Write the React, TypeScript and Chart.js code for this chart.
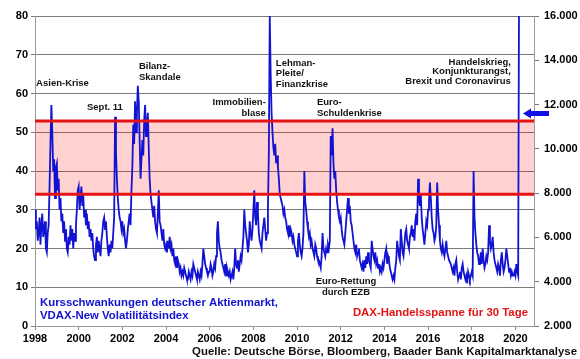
import React, { useEffect, useRef } from "react";
import { Chart, registerables } from "chart.js";
Chart.register(...registerables);

// VDAX-New: 24 samples per year (roughly every half month)
const v1998 = [30,25,27,22,24,28,21,26,29,23,25,27,20,19,24,26,36,47,57,50,40,43,33,41];
const v1999 = [42,35,38,30,33,27,29,24,27,22,25,20,19,23,21,26,22,25,20,24,22,26,30,35];
const v2000 = [36,30,33,36,31,34,28,30,26,29,25,27,23,25,22,24,20,18,17,21,23,19,22,20];
const v2001 = [18,22,24,27,28,25,27,23,20,18,21,19,22,20,24,28,54,45,38,33,30,28,27,25];
const v2002 = [27,24,25,22,20,22,25,27,29,26,35,41,52,47,58,50,55,62,58,48,38,43,48,44];
const v2003 = [53,57,49,52,55,46,38,34,32,30,28,31,27,25,24,29,35,27,26,24,22,25,21,20];
const v2004 = [21,19,22,20,23,20,21,18,20,17,16,18,15,17,16,14,15,13,14,13,15,14,13,12];
const v2005 = [12,14,13,12,14,13,16,15,14,13,12,14,13,12,14,13,16,20,18,16,15,14,13,14];
const v2006 = [14,16,15,13,14,16,15,18,24,27,22,20,19,17,16,15,14,16,13,15,14,13,14,12];
const v2007 = [13,14,12,15,20,16,15,17,14,16,18,17,20,23,30,26,24,22,19,21,27,24,22,25];
const v2008 = [30,35,28,26,32,29,24,22,21,20,24,26,28,25,22,24,30,45,80,65,55,50,46,44];
const v2009 = [47,42,44,41,38,34,33,32,31,29,30,28,27,25,24,26,23,25,24,22,23,21,20,19];
const v2010 = [18,22,24,21,19,18,20,24,40,32,30,27,25,23,24,21,22,20,19,18,21,20,18,17];
const v2011 = [17,16,15,18,24,20,19,18,20,19,21,20,22,49,44,51,42,38,40,35,32,30,28,27];
const v2012 = [28,25,23,22,21,24,27,30,33,29,31,27,26,24,22,20,19,21,18,19,20,17,16,15];
const v2013 = [16,14,17,15,18,16,19,17,16,15,22,20,18,17,19,16,17,15,16,14,15,14,16,15];
const v2014 = [17,19,20,16,18,17,15,14,13,12,13,12,15,17,22,20,18,17,25,22,19,18,21,24];
const v2015 = [25,22,21,20,23,24,26,23,25,22,27,29,26,38,33,31,34,28,25,23,21,24,27,26];
const v2016 = [30,32,37,33,28,25,24,22,23,26,37,30,26,22,20,19,21,19,18,20,22,19,18,17];
const v2017 = [17,16,15,14,15,13,16,17,14,12,13,14,12,15,16,14,13,12,13,11,14,13,12,13];
const v2018 = [14,13,40,28,24,21,19,18,16,17,19,16,20,17,15,16,18,17,19,26,22,20,21,23];
const v2019 = [19,17,16,15,14,16,15,13,17,19,16,14,15,17,20,18,16,14,15,13,14,13,13,14];
const v2020 = [13,16,14,13,90];
const vdaxYears = [v1998,v1999,v2000,v2001,v2002,v2003,v2004,v2005,v2006,v2007,v2008,v2009,v2010,v2011,v2012,v2013,v2014,v2015,v2016,v2017,v2018,v2019,v2020];
const firstYear = 1998;
const samplesPerYear = 24;

// DAX trading range for 30 days (in VDAX units on left axis)
const bandLow = 34;
const bandHigh = 52.9;
const arrowDax = 11600;

const xMin = 1998;
const xMax = 2020.85;
const xStep = 2;
const yMin = 0, yMax = 80, yStep = 10;
const y2Min = 2000, y2Max = 16000, y2Step = 2000;

const annotations = [
  { lines: ["Asien-Krise"], x: 1998.05, y: [62.7], align: "left" },
  { lines: ["Sept. 11"], x: 2000.38, y: [56.5], align: "left" },
  { lines: ["Bilanz-", "Skandale"], x: 2002.76, y: [66.9, 64.1], align: "left" },
  { lines: ["Immobilien-", "blase"], x: 2008.57, y: [57.8, 55.0], align: "right" },
  { lines: ["Lehman-", "Pleite/", "Finanzkrise"], x: 2009.03, y: [67.9, 65.1, 62.3], align: "left" },
  { lines: ["Euro-", "Schuldenkrise"], x: 2010.91, y: [57.8, 55.0], align: "left" },
  { lines: ["Handelskrieg,", "Konjunkturangst,", "Brexit und Coronavirus"], x: 2019.79, y: [68.1, 65.6, 63.1], align: "right" },
  { lines: ["Euro-Rettung", "durch EZB"], x: 2012.24, y: [11.4, 8.8], align: "center" },
];
const seriesLabel = ["Kursschwankungen deutscher Aktienmarkt,", "VDAX-New Volatilitätsindex"];
const bandLabel = "DAX-Handelsspanne für 30 Tage";
const sourceLabel = "Quelle: Deutsche Börse, Bloomberg, Baader Bank Kapitalmarktanalyse";

const FONT = "'Liberation Sans', Arial, sans-serif";
const BLUE = "#1212d2";
const RED = "#e41414";

const textPlugin = {
  id: "texts",
  afterDatasetsDraw(chart: any) {
    const { ctx, scales, chartArea } = chart;
    const xs = scales.x, ys = scales.y, y2 = scales.y2;
    ctx.save();
    ctx.textBaseline = "middle";
    ctx.fillStyle = "#111";
    ctx.font = `bold 9.5px ${FONT}`;
    for (const a of annotations) {
      ctx.textAlign = a.align;
      const px = xs.getPixelForValue(a.x);
      a.lines.forEach((t, i) => ctx.fillText(t, px, ys.getPixelForValue(a.y[i])));
    }
    ctx.font = `bold 11.4px ${FONT}`;
    ctx.fillStyle = BLUE;
    ctx.textAlign = "left";
    ctx.fillText(seriesLabel[0], chartArea.left + 5, ys.getPixelForValue(5.9));
    ctx.fillText(seriesLabel[1], chartArea.left + 5, ys.getPixelForValue(2.6));
    ctx.fillStyle = RED;
    ctx.textAlign = "right";
    ctx.fillText(bandLabel, chartArea.right - 6, ys.getPixelForValue(3.4));
    ctx.fillStyle = "#111";
    ctx.font = `bold 11.4px ${FONT}`;
    ctx.fillText(sourceLabel, chart.width - 3, chart.height - 7);
    // arrow
    const ay = y2.getPixelForValue(arrowDax);
    const tip = chartArea.right - 11;
    ctx.fillStyle = "#1010e6";
    ctx.beginPath();
    ctx.moveTo(tip, ay);
    ctx.lineTo(tip + 8, ay - 5);
    ctx.lineTo(tip + 8, ay - 2.5);
    ctx.lineTo(tip + 26, ay - 2.5);
    ctx.lineTo(tip + 26, ay + 2.5);
    ctx.lineTo(tip + 8, ay + 2.5);
    ctx.lineTo(tip + 8, ay + 5);
    ctx.closePath();
    ctx.fill();
    ctx.restore();
  },
};

const fmtDE = (v: number) => String(v).replace(/\B(?=(\d{3})+(?!\d))/g, ".");

export default function App() {
  const ref = useRef<HTMLCanvasElement | null>(null);
  useEffect(() => {
    if (!ref.current) return;
    Chart.defaults.font.family = FONT;
    const points = vdaxYears.flatMap((arr, k) =>
      arr.map((v, i) => ({ x: firstYear + k + i / samplesPerYear, y: v }))
    );
    const tickFont = { family: FONT, size: 11, weight: "bold" as const };
    const chart = new Chart(ref.current, {
      type: "line",
      data: {
        datasets: [
          {
            label: "VDAX-New",
            data: points,
            borderColor: BLUE,
            borderWidth: 1.8,
            pointRadius: 0,
            tension: 0,
            fill: false,
            order: 2,
          },
          {
            label: "lower",
            data: [{ x: xMin, y: bandLow }, { x: xMax, y: bandLow }],
            borderColor: RED,
            borderWidth: 3,
            pointRadius: 0,
            fill: false,
            order: 0,
          },
          {
            label: "upper",
            data: [{ x: xMin, y: bandHigh }, { x: xMax, y: bandHigh }],
            borderColor: RED,
            borderWidth: 3,
            pointRadius: 0,
            fill: 1,
            backgroundColor: "rgba(255,0,0,0.18)",
            order: 0,
          },
        ],
      },
      options: {
        animation: false,
        responsive: false,
        layout: { padding: { top: 16, left: 0, right: 0, bottom: 0 } },
        plugins: {
          legend: { display: false },
          tooltip: { enabled: false },
          filler: { drawTime: "beforeDatasetsDraw" },
        },
        scales: {
          x: {
            type: "linear",
            min: xMin,
            max: xMax,
            ticks: {
              stepSize: xStep,
              includeBounds: false,
              autoSkip: false,
              maxRotation: 0,
              color: "#000",
              font: tickFont,
              padding: 2,
              callback: (v: any) => String(v),
            },
            grid: { drawOnChartArea: false, drawTicks: true, tickLength: 4, color: "#8a8a8a" },
            border: { color: "#9a9a9a" },
            afterFit: (s: any) => { s.height = 33; },
          },
          y: {
            position: "left",
            min: yMin,
            max: yMax,
            ticks: { stepSize: yStep, color: "#000", font: tickFont, padding: 3 },
            grid: { color: "#7a7a7a", lineWidth: 1, tickLength: 4 },
            border: { color: "#9a9a9a" },
            afterFit: (s: any) => { s.width = 35; },
          },
          y2: {
            position: "right",
            min: y2Min,
            max: y2Max,
            ticks: { stepSize: y2Step, color: "#000", font: tickFont, padding: 5, callback: (v: any) => fmtDE(v) },
            grid: { drawOnChartArea: false, drawTicks: true, tickLength: 5, color: "#7a7a7a" },
            border: { color: "#9a9a9a" },
            afterFit: (s: any) => { s.width = 46; },
          },
        },
      },
      plugins: [textPlugin],
    });
    return () => chart.destroy();
  }, []);
  return (
    <div style={{ position: "absolute", left: 0, top: 0, width: 580, height: 359, background: "#fff" }}>
      <canvas ref={ref} width={580} height={359} style={{ display: "block" }} />
    </div>
  );
}
